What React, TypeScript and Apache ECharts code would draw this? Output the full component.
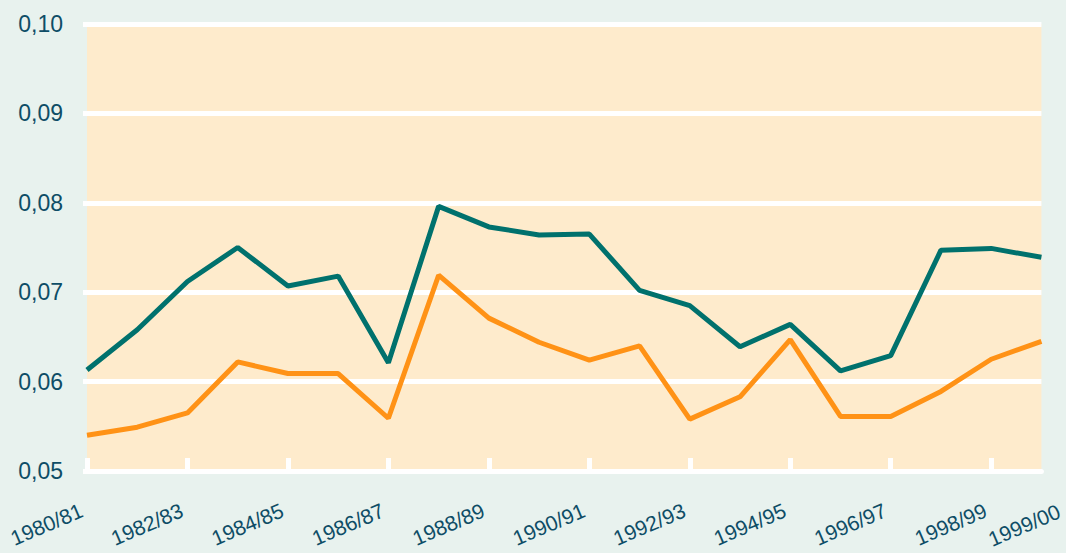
import React, { useEffect, useRef } from "react";
import * as echarts from "echarts";

const categories = [
  "1980/81", "1981/82", "1982/83", "1983/84", "1984/85", "1985/86", "1986/87",
  "1987/88", "1988/89", "1989/90", "1990/91", "1991/92", "1992/93", "1993/94",
  "1994/95", "1995/96", "1996/97", "1997/98", "1998/99", "1999/00",
];

const tealSeries = [
  0.0613, 0.0658, 0.0712, 0.0750, 0.0707, 0.0718, 0.0621, 0.0796, 0.0773, 0.0764,
  0.0765, 0.0702, 0.0685, 0.0639, 0.0664, 0.0612, 0.0629, 0.0747, 0.0749, 0.0739,
];

const orangeSeries = [
  0.0540, 0.0549, 0.0565, 0.0622, 0.0609, 0.0609, 0.0559, 0.0719, 0.0671, 0.0644,
  0.0624, 0.0640, 0.0558, 0.0583, 0.0647, 0.0561, 0.0561, 0.0589, 0.0625, 0.0645,
];

const yMin = 0.05;
const yMax = 0.1;
const yStep = 0.01;

const TEXT = "#0e4d66";
const FONT = "'Liberation Sans', Arial, sans-serif";

export default function App() {
  const ref = useRef<HTMLDivElement>(null);

  useEffect(() => {
    if (!ref.current) return;
    const chart = echarts.init(ref.current, undefined, { renderer: "svg" });
    const last = categories.length - 1;
    chart.setOption({
      animation: false,
      backgroundColor: "#e8f2ee",
      grid: {
        left: 87,
        right: 23,
        top: 24,
        bottom: 82,
        show: true,
        backgroundColor: "#feebcc",
        borderWidth: 0,
      },
      xAxis: {
        type: "category",
        data: categories,
        boundaryGap: false,
        axisLine: { show: true, lineStyle: { color: "#ffffff", width: 5 } },
        axisTick: {
          show: true,
          inside: true,
          length: 13,
          interval: (i: number) => i % 2 === 0 && i !== last,
          lineStyle: { color: "#ffffff", width: 5 },
        },
        splitLine: { show: false },
        axisLabel: {
          interval: (i: number) => i % 2 === 0 || i === last,
          rotate: 23,
          margin: 36,
          formatter: (v: string, i: number) => (i === last ? `{b|${v}}` : `{a|${v}}`),
          rich: {
            a: { fontSize: 21, color: TEXT, fontFamily: FONT, padding: [0, 6, 0, 0] },
            b: { fontSize: 21, color: TEXT, fontFamily: FONT, padding: [20, -15, 0, 0] },
          },
        },
      },
      yAxis: {
        type: "value",
        min: yMin,
        max: yMax,
        interval: yStep,
        axisLine: { show: false },
        axisTick: { show: true, length: 4, lineStyle: { color: "#ffffff", width: 5 } },
        splitLine: { show: true, lineStyle: { color: "#ffffff", width: 5 } },
        axisLabel: {
          margin: 24,
          fontSize: 23,
          color: TEXT,
          fontFamily: FONT,
          formatter: (v: number) => v.toFixed(2).replace(".", ","),
        },
      },
      series: [
        {
          type: "line",
          data: orangeSeries,
          symbol: "none",
          lineStyle: { color: "#ff9216", width: 5 },
          itemStyle: { color: "#ff9216" },
        },
        {
          type: "line",
          data: tealSeries,
          symbol: "none",
          lineStyle: { color: "#00716d", width: 5 },
          itemStyle: { color: "#00716d" },
        },
      ],
    });
    return () => chart.dispose();
  }, []);

  return (
    <div
      ref={ref}
      style={{ position: "absolute", left: 0, top: 0, width: 1066, height: 553 }}
    />
  );
}
